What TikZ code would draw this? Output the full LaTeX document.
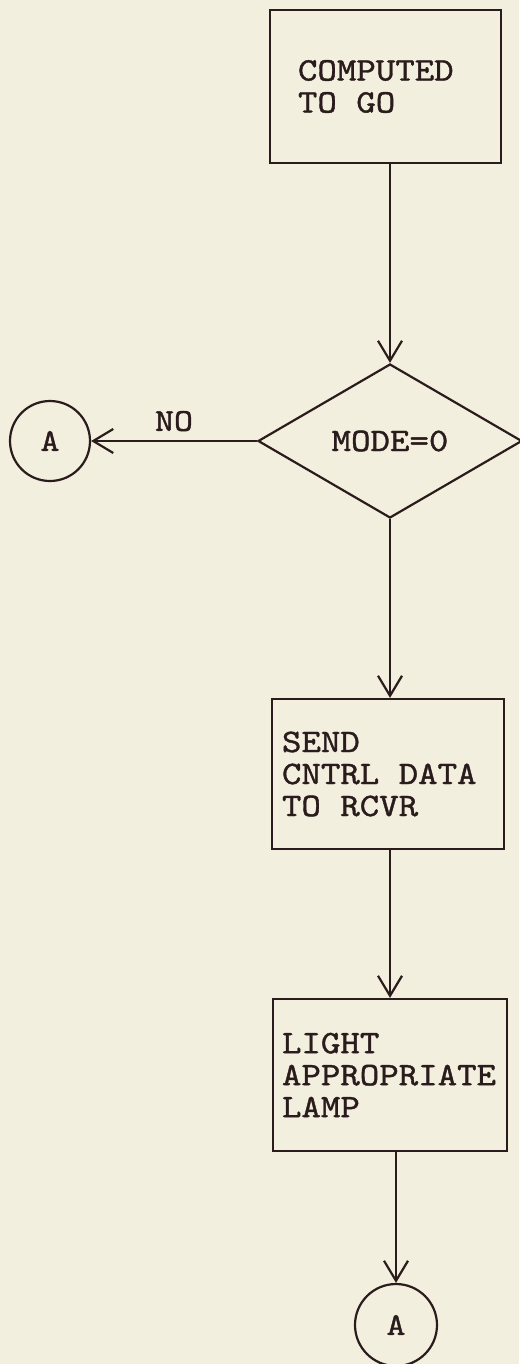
\documentclass[tikz,border=0pt]{standalone}
\usepackage{fontspec}
\usepackage{tikz}
\usetikzlibrary{arrows.meta,shapes.geometric,positioning}
\newfontfamily\flowtt{lmmono10-regular.otf}[FakeStretch=1.13,FakeBold=1.2]
\newcommand\flowsize[1]{\flowtt\fontsize{#1}{16pt}\selectfont\spaceskip=0.593em\relax}
\definecolor{paper_cream}{RGB}{243,239,222}
\definecolor{ink_dark}{RGB}{42,28,28}

\begin{document}
\begin{tikzpicture}[x=0.5pt, y=-0.5pt, line width=1.1pt, draw=ink_dark, text=ink_dark,
      font=\flowsize{16.4pt},
      box/.style={draw=ink_dark, rectangle, align=flush left, inner ysep=0pt},
      decision/.style={draw=ink_dark, diamond, inner sep=0pt,
                       minimum width=132pt, minimum height=77pt},
      connector/.style={draw=ink_dark, circle, inner sep=0pt, font=\flowsize{16pt}},
      flow/.style={-{Straight Barb[length=10pt, width=12pt]}, draw=ink_dark}]
    \fill[paper_cream] (0,0) rectangle (519,1364);
    \useasboundingbox (0,0) rectangle (519,1364);
    \node[box, minimum width=115.5pt, minimum height=76.5pt,
          inner xsep=14pt, text width=87.5pt] (go) at (385.5,86.5)
      {COMPUTED\\TO GO};
    \node[decision] (mode) at (390,441) {MODE=0\hspace{13pt}};
    \node[connector, minimum size=40pt] (offA) at (50,441) {A};
    \node[box, minimum width=116pt, minimum height=75pt,
          inner xsep=5pt, text width=106pt] (send) at (388,774)
      {SEND\\CNTRL DATA\\TO RCVR};
    \node[box, minimum width=117pt, minimum height=76pt,
          inner xsep=4.5pt, text width=108pt] (lamp) at (390,1075)
      {LIGHT\\APPROPRIATE\\LAMP};
    \node[connector, minimum size=41pt] (endA) at (396,1325) {A};
    \draw[flow] (go.south -| mode.north)--(mode.north);
    \draw[flow] (mode.west)--(offA.east)
      node[midway, above=1pt, font=\flowsize{16pt}] (no) {NO};
    \draw[flow] (mode.south)--(mode.south |- send.north);
    \draw[flow] (send.south -| lamp.north)--(lamp.north);
    \draw[flow] (lamp.south -| endA.north)--(endA.north);
  \end{tikzpicture}
\end{document}
